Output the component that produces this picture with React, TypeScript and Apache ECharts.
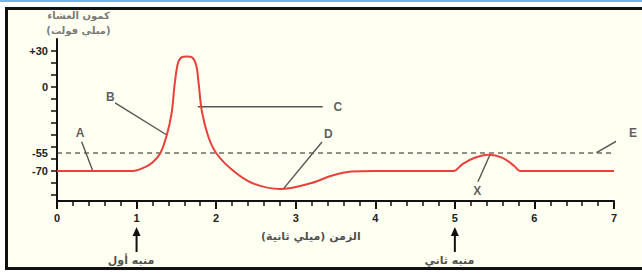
import React, { useEffect, useRef } from "react";
import * as echarts from "echarts";

// Membrane potential trace (time ms, potential mV)
const traceTime = [0, 0.95, 1.1, 1.2, 1.3, 1.38, 1.44, 1.48, 1.52, 1.56, 1.63, 1.7, 1.75, 1.78, 1.82, 1.9, 2.0, 2.2, 2.45, 2.8, 3.2, 3.45, 3.7, 4.0, 4.98, 5.1, 5.25, 5.42, 5.6, 5.75, 5.82, 7];
const traceMv = [-70, -70, -67, -63, -55, -40, -22, 3, 20, 24.5, 25.5, 24.5, 18, 3, -20, -41, -55, -69, -80, -85, -80, -74, -70.5, -70, -70, -64, -59, -56.5, -59, -66, -70, -70];

const thresholdMv = -55;
const xTickLabels = ["0", "1", "2", "3", "4", "5", "6", "7"];
const yLabelValues = [30, 0, -55, -70];
const yTickValues = [30, 20, 10, 0, -10, -20, -30, -40, -50, -60, -70, -80, -90];

// pointer lines [from, to]
const pointerA = [[0.31, -45.6], [0.45, -70]];
const pointerB = [[0.73, -13.3], [1.38, -40]];
const pointerC = [[1.77, -16.4], [3.34, -16.4]];
const pointerD = [[3.33, -45.8], [2.84, -85.3]];
const pointerE = [[7.1, -42.5], [6.78, -54.7]];
const pointerX = [[5.29, -78.9], [5.44, -56.7]];

const letterNames = ["A", "B", "C", "D", "E", "X"];
const letterPos = [[0.29, -38.3], [0.67, -8.3], [3.53, -16.7], [3.41, -39], [7.24, -38.3], [5.28, -86.4]];

const stimulusTimes = [1, 5];
const stimulusNames = ["منبه أول", "منبه ثاني"];
const arrowTailMv = -137.5;
const arrowTipMv = -116.7;

const xAxisTitle = "الزمن (ميلي ثانية)";
const yAxisTitle1 = "كمون الغشاء";
const yAxisTitle2 = "(ميلي فولت)";

export default function App() {
  const ref = useRef<HTMLDivElement>(null);
  useEffect(() => {
    if (!ref.current) return;
    const chart = echarts.init(ref.current, undefined, { renderer: "svg" });
    const pointers = [pointerA, pointerB, pointerC, pointerD, pointerE, pointerX];
    const arabicFont = "DejaVu Sans";
    const textSeries = (data: any[], style: any) => ({
      type: "scatter",
      symbolSize: 0,
      clip: false,
      silent: true,
      data,
      label: { show: true, position: "inside", formatter: (p: any) => p.name, ...style },
      z: 10,
    });
    chart.setOption({
      animation: false,
      grid: { left: 57, right: 28, top: 39, bottom: 72 },
      xAxis: {
        type: "value",
        min: 0,
        max: 7,
        interval: 1,
        axisLine: { onZero: false, lineStyle: { color: "#111", width: 2 } },
        axisTick: { length: 8, lineStyle: { color: "#111", width: 2 } },
        minorTick: { show: true, splitNumber: 5, length: 5, lineStyle: { color: "#111", width: 1.5 } },
        splitLine: { show: false },
        axisLabel: {
          margin: 11,
          color: "#222",
          fontWeight: "bold",
          fontSize: 11,
          fontFamily: "Liberation Sans",
          formatter: (v: number) => xTickLabels[Math.round(v)] ?? "",
        },
      },
      yAxis: {
        type: "value",
        min: -95,
        max: 40,
        interval: 5,
        axisLine: { show: true, onZero: false, lineStyle: { color: "#111", width: 2 } },
        axisTick: { show: false },
        splitLine: { show: false },
        axisLabel: {
          margin: 9,
          color: "#222",
          fontWeight: "bold",
          fontSize: 11,
          fontFamily: "Liberation Sans",
          formatter: (v: number) => (yLabelValues.includes(v) ? (v > 0 ? "+" + v : String(v)) : ""),
        },
      },
      series: [
        {
          type: "custom",
          silent: true,
          clip: false,
          data: yTickValues.map((v) => [0, v]),
          renderItem: (params: any, api: any) => {
            const p = api.coord([api.value(0), api.value(1)]);
            return {
              type: "line",
              shape: { x1: p[0] - 6, y1: p[1], x2: p[0], y2: p[1] },
              style: { stroke: "#111", lineWidth: 1.5 },
            };
          },
          encode: { x: 0, y: 1 },
        },
        {
          type: "custom",
          silent: true,
          clip: false,
          data: stimulusTimes.map((t) => [t, arrowTailMv, arrowTipMv]),
          renderItem: (params: any, api: any) => {
            const a = api.coord([api.value(0), api.value(1)]);
            const b = api.coord([api.value(0), api.value(2)]);
            return {
              type: "group",
              children: [
                {
                  type: "line",
                  shape: { x1: a[0], y1: a[1], x2: b[0], y2: b[1] + 6 },
                  style: { stroke: "#111", lineWidth: 2 },
                },
                {
                  type: "polygon",
                  shape: { points: [[b[0], b[1]], [b[0] - 4, b[1] + 9], [b[0] + 4, b[1] + 9]] },
                  style: { fill: "#111" },
                },
              ],
            };
          },
          encode: { x: 0, y: [1, 2] },
        },
        {
          type: "line",
          silent: true,
          symbol: "none",
          data: [[0, thresholdMv], [7, thresholdMv]],
          lineStyle: { color: "#222", width: 1, type: [5, 4] },
        },
        {
          type: "line",
          silent: true,
          symbol: "none",
          smooth: 0.35,
          data: traceTime.map((t, i) => [t, traceMv[i]]),
          lineStyle: { color: "#e8403a", width: 2 },
          z: 5,
        },
        ...pointers.map((pts) => ({
          type: "line",
          silent: true,
          symbol: "none",
          clip: false,
          data: pts,
          lineStyle: { color: "#555", width: 1.4 },
          z: 4,
        })),
        textSeries(
          letterNames.map((n, i) => ({ name: n, value: letterPos[i] })),
          { color: "#333", fontWeight: "bold", fontSize: 12, fontFamily: "Liberation Sans" }
        ),
        textSeries(
          stimulusNames.map((n, i) => ({ name: n, value: [stimulusTimes[i] - 0.07, -144.2] })),
          { color: "#222", fontWeight: "bold", fontSize: 11, fontFamily: arabicFont }
        ),
        textSeries(
          [{ name: xAxisTitle, value: [3.19, -124.2] }],
          { color: "#222", fontWeight: "bold", fontSize: 11, fontFamily: arabicFont }
        ),
        textSeries(
          [
            { name: yAxisTitle1, value: [0.27, 59.2] },
            { name: yAxisTitle2, value: [0.27, 47.5] },
          ],
          { color: "#555", fontWeight: "bold", fontSize: 10, fontFamily: arabicFont }
        ),
      ],
    });
    return () => chart.dispose();
  }, []);

  return (
    <div style={{ position: "fixed", left: 0, top: 0, width: 642, height: 273, background: "#fff", overflow: "hidden" }}>
      <div style={{ position: "absolute", left: 0, top: 0, width: 642, height: 2, background: "#74b4ea" }} />
      <div
        style={{
          position: "absolute",
          left: 5,
          top: 7,
          width: 700,
          height: 263,
          boxSizing: "border-box",
          border: "3px solid #111",
          background: "#fffff2",
        }}
      />
      <div ref={ref} style={{ position: "absolute", left: 0, top: 0, width: 642, height: 273 }} />
    </div>
  );
}
